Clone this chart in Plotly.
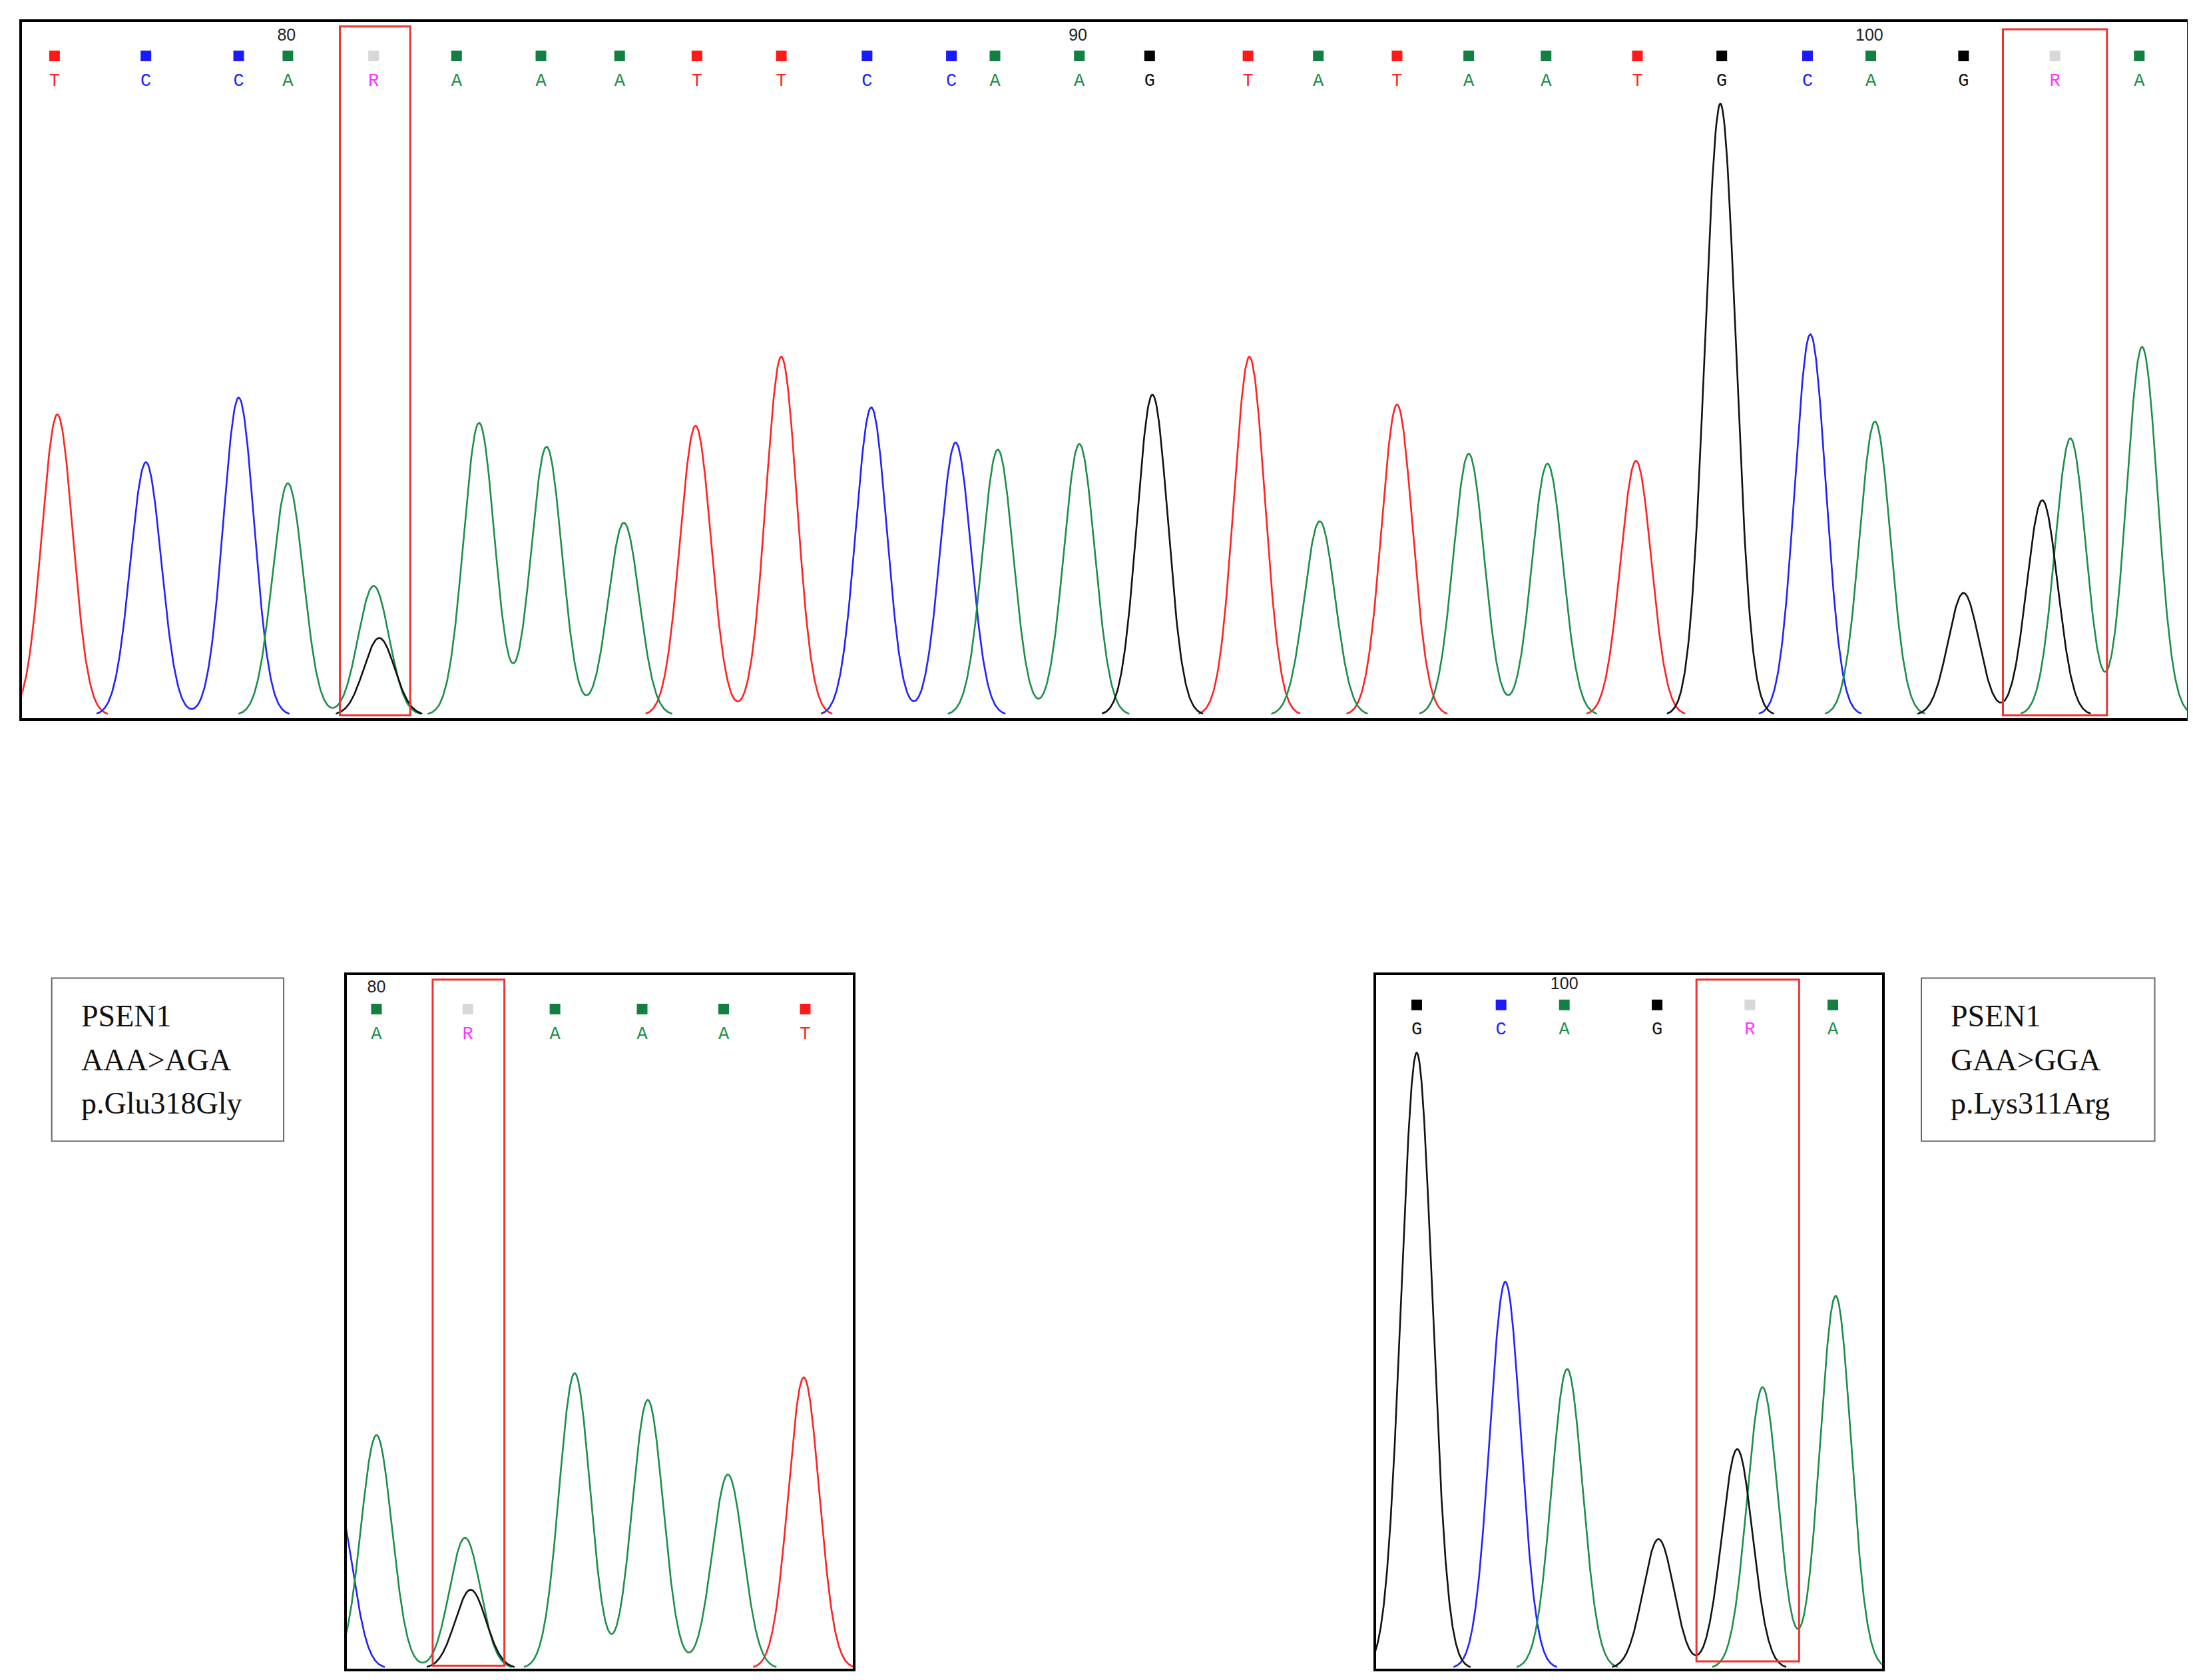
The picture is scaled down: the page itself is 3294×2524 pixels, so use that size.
import numpy as np
import plotly.graph_objects as go

W, H = 3294, 2524

# ---------- data (display-pixel units of the reference) ----------
top_bases = list("TCCARAAATTCCAAGTATAATGCAGRA")
top_base_x = [35,100,166,201,262,321,381,437,492,552,613,673,704,764,814,884,934,990,1041,1096,1161,1221,1282,1327,1393,1458,1518]
top_pos_labels = ["80", "90", "100"]
top_pos_x = [200, 763, 1326]
top_peak_x = [37,100,166,201,262,266,337,385,440,491,552,616,676,706,764,816,885,935,990,1041,1097,1160,1220,1284,1330,1393,1449,1469,1520]
top_peak_h = [214,180,226,165,92,55,208,191,137,206,255,219,194,189,193,228,255,138,221,186,179,181,435,271,209,87,153,197,262]
top_peak_c = list("TCCAAGAAATTCCAAGTATAATGCAGGAA")

bl_bases = list("ARAAAT")
bl_base_x = [264,329,391,453,511,569]
bl_pos_labels = ["80"]; bl_pos_x = [264]
bl_peak_x = [236,264,327,331,405,457,514,568]
bl_peak_h = [118,166,93,56,210,191,138,207]
bl_peak_c = list("CAAGAAAT")

br_bases = list("GCAGRA")
br_base_x = [1004,1064,1109,1175,1241,1300]
br_pos_labels = ["100"]; br_pos_x = [1109]
br_peak_x = [1004,1067,1111,1176,1232,1250,1302]
br_peak_h = [438,275,213,92,156,200,265]
br_peak_c = list("GCAGGAA")

left_text = ["PSEN1", "AAA>AGA", "p.Glu318Gly"]
right_text = ["PSEN1", "GAA>GGA", "p.Lys311Arg"]

COL = {"A": "#1e8f4a", "C": "#2222ff", "G": "#111111", "T": "#ff2222", "R": "#ff33ff"}
SQ = {"A": "#128040", "C": "#1a1aff", "G": "#000000", "T": "#ff1a1a", "R": "#d8d8d8"}

fig = go.Figure()

panels = [
    ("", 12, 1552, 12, 507, top_bases, top_base_x, top_pos_labels, top_pos_x,
     (top_peak_x, top_peak_h, top_peak_c), [(238, 288, 15, 505), (1421, 1495, 17, 505)], 54, 36, 22),
    ("2", 243, 603, 690, 1183, bl_bases, bl_base_x, bl_pos_labels, bl_pos_x,
     (bl_peak_x, bl_peak_h, bl_peak_c), [(304, 355, 693, 1181)], 732, 714, 699),
    ("3", 975, 1335, 690, 1183, br_bases, br_base_x, br_pos_labels, br_pos_x,
     (br_peak_x, br_peak_h, br_peak_c), [(1203, 1276, 693, 1178)], 729, 711, 697),
]

for name, x0, x1, y0, y1, bases, bx, pl, px, (pkx, pkh, pkc), boxes, ly, sqy, ny in panels:
    base = 505 if name == "" else 1183
    xa, ya = "x" + name, "y" + name
    xs = np.linspace(x0 - 40, x1 + 40, 3000)
    for ch in "TCAG":
        y = np.zeros_like(xs)
        for c, h, k in zip(pkx, pkh, pkc):
            if k == ch:
                y = y + h * np.exp(-0.5 * ((xs - c) / 11.0) ** 2)
        y = np.where(y < 1.0, np.nan, y)
        fig.add_trace(go.Scatter(x=xs, y=y, mode="lines", xaxis=xa, yaxis=ya,
                                 line=dict(color=COL[ch], width=2.6), hoverinfo="skip",
                                 showlegend=False, connectgaps=False))
    fig.add_trace(go.Scatter(x=bx, y=[base - sqy] * len(bx), mode="markers", xaxis=xa, yaxis=ya,
                             marker=dict(symbol="square", size=16, color=[SQ[b] for b in bases]),
                             showlegend=False, hoverinfo="skip"))
    fig.add_trace(go.Scatter(x=bx, y=[base - ly] * len(bx), mode="text", text=bases, xaxis=xa, yaxis=ya,
                             textfont=dict(family="Liberation Mono", size=27, color=[COL[b] for b in bases]),
                             showlegend=False, hoverinfo="skip"))
    fig.add_trace(go.Scatter(x=px, y=[base - ny] * len(px), mode="text", text=pl, xaxis=xa, yaxis=ya,
                             textfont=dict(family="Liberation Sans", size=25, color="#222"),
                             showlegend=False, hoverinfo="skip"))
    for bx0, bx1, by0, by1 in boxes:
        fig.add_shape(type="rect", xref=xa, yref=ya, x0=bx0, x1=bx1, y0=base - by1, y1=base - by0,
                      line=dict(color="#ee3333", width=3))
    dom_x = [x0 / 1560, x1 / 1560]
    dom_y = [1 - y1 / 1195, 1 - y0 / 1195]
    axx = dict(domain=dom_x, range=[x0, x1], showgrid=False, zeroline=False, showticklabels=False,
               ticks="", showline=True, mirror=True, linecolor="black", linewidth=4)
    axy = dict(domain=dom_y, range=[base - y1, base - y0], showgrid=False, zeroline=False,
               showticklabels=False, ticks="", showline=True, mirror=True, linecolor="black", linewidth=4)
    if name:
        axx["anchor"] = ya; axy["anchor"] = xa
    fig.update_layout(**{"xaxis" + name: axx, "yaxis" + name: axy})

for (bx0, bx1), lines in [((33, 198), left_text), ((1363, 1529), right_text)]:
    fig.add_shape(type="rect", xref="paper", yref="paper", x0=bx0 / 1560, x1=bx1 / 1560,
                  y0=1 - 808 / 1195, y1=1 - 692 / 1195, line=dict(color="#666", width=2))
    for i, t in enumerate(lines):
        fig.add_annotation(xref="paper", yref="paper", x=(bx0 + 20) / 1560, y=1 - (719 + 31 * i) / 1195,
                           text=t, showarrow=False, xanchor="left", yanchor="middle",
                           font=dict(family="Liberation Serif", size=46, color="#111"))

fig.update_layout(width=W, height=H, margin=dict(l=0, r=0, t=0, b=0),
                  paper_bgcolor="white", plot_bgcolor="white")
fig.write_html("out.html")
